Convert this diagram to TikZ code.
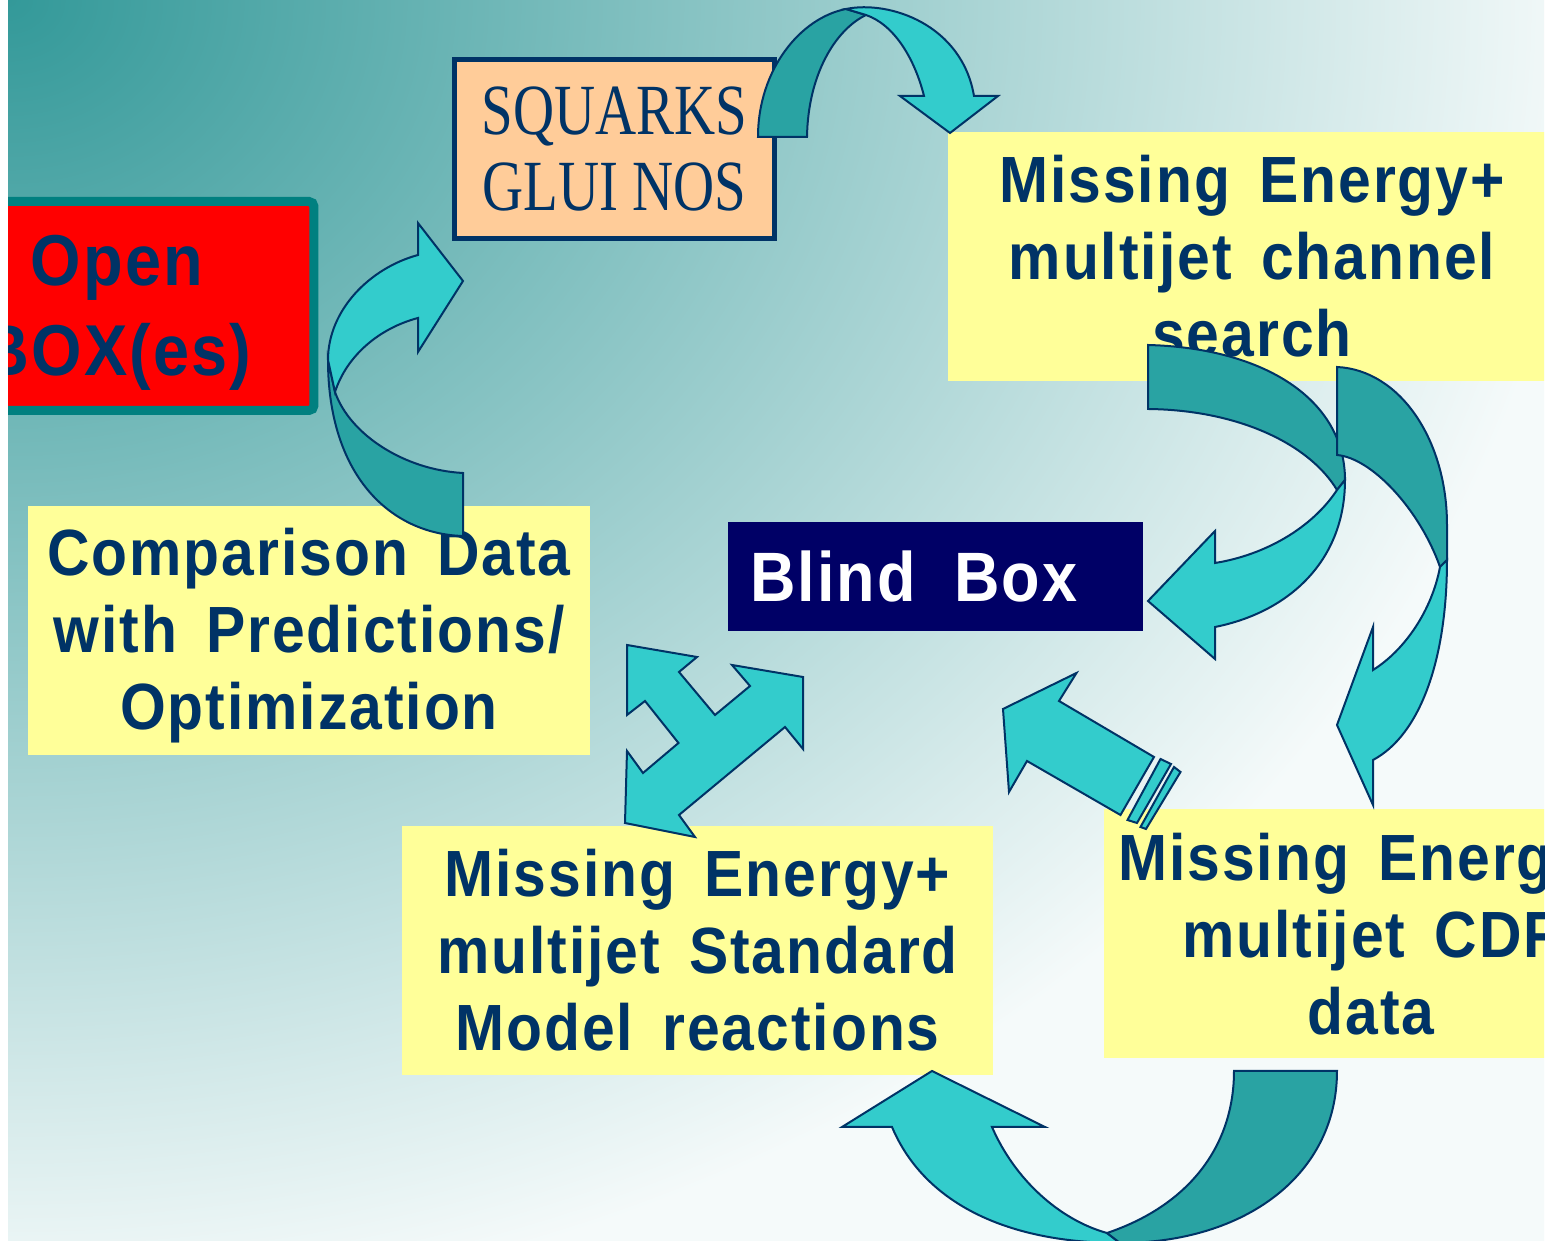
\documentclass[tikz,border=0pt]{standalone}
\usepackage{fontspec}
\setmainfont{Liberation Sans}
\newfontfamily\labelfont{Liberation Sans}[FakeStretch=0.9,LetterSpace=3,WordSpace=1.6]
\newfontfamily\partfont{Liberation Serif}[FakeStretch=0.79]

\definecolor{bgdeep}{HTML}{339999}
\definecolor{bgpale}{HTML}{F5FAFA}
\definecolor{navytext}{HTML}{003366}
\definecolor{notepad}{HTML}{FFFF99}
\definecolor{peach}{HTML}{FFCC99}
\definecolor{blindnavy}{HTML}{000066}
\definecolor{openred}{HTML}{FF0000}
\definecolor{openrim}{HTML}{008080}
\definecolor{arrowlight}{HTML}{33CCCC}
\definecolor{arrowdark}{HTML}{29A3A3}

% slide background, fading out from the upper left corner
\pgfdeclareradialshading{slidefade}{\pgfpoint{0bp}{0bp}}{color(0bp)=(bgdeep); color(25bp)=(bgpale); color(50bp)=(bgpale)}

\newcommand\notefont{\labelfont\bfseries\fontsize{18.6pt}{21.9pt}\selectfont}

\begin{document}
\begin{tikzpicture}[
  x=0.1mm, y=-0.1mm,
  notebox/.style={rectangle, fill=notepad, text=navytext, align=center,
    minimum height=24.9mm, inner sep=0pt, font=\notefont},
  blindbox/.style={rectangle, fill=blindnavy, text=white, align=left,
    text width=37.1mm, inner xsep=2.2mm, inner ysep=0pt, minimum height=10.9mm,
    font=\labelfont\bfseries\fontsize{19.9pt}{22pt}\selectfont},
  partbox/.style={rectangle, fill=peach, draw=navytext, line width=0.5mm,
    text=navytext, align=center, minimum width=32mm, minimum height=17.9mm,
    font=\partfont\fontsize{20.5pt}{21.9pt}\selectfont},
  openbox/.style={rectangle, fill=openred, draw=openrim, line width=0.9mm,
    rounded corners=0.5mm, text=navytext, align=center,
    minimum width=39.4mm, minimum height=20.9mm,
    font=\labelfont\bfseries\fontsize{20.5pt}{25.6pt}\selectfont},
  face/.style={fill=arrowlight, draw=navytext, line width=0.2mm, line join=miter},
  back/.style={fill=arrowdark, draw=navytext, line width=0.2mm, line join=miter},
]
\useasboundingbox (0,0) rectangle (1562,1241);
\fill[white] (0,0) rectangle (1562,1241);

\begin{scope}
\clip (8,0) rectangle (1544,1241);
\shade[shading=slidefade] (-1572,-1320) rectangle (1588,1320);

% boxes
\node[openbox] (open) at (117,306) {\rule{0pt}{6.3mm}Open\\BOX(es)};
\node[partbox] (sparticles) at (614.5,149) {SQUARKS\\GLUI NOS};
\node[notebox, minimum width=60.8mm] (chan) at (1252,256.5) {Missing Energy+\\multijet channel\\search};
\node[blindbox] (blind) at (935.5,576.5) {Blind\hspace{1.5mm} Box};
\node[notebox, minimum width=56.2mm] (comp) at (309,631) {\rule{0pt}{5.7mm}Comparison Data\\with Predictions/\\Optimization};
\node[notebox, minimum width=59.1mm] (smodel) at (697.5,950.5) {Missing Energy+\\multijet Standard\\Model reactions};
\node[notebox, minimum width=53.4mm] (cdf) at (1371,934) {Missing Energy+\\multijet CDF\\data};

% comparison -> squarks/gluinos
\draw[back] (463,536) .. controls (390,534) and (328,475) .. (328,360)
  -- (335,392) .. controls (350,435) and (405,470) .. (463,473) -- cycle;
\draw[face] (328,360) .. controls (328,310) and (370,268) .. (418,255)
  -- (418,223) -- (463,281) -- (418,352) -- (418,318)
  .. controls (380,328) and (347,355) .. (335,392) -- cycle;

% squarks/gluinos -> channel search
\draw[back] (758,137) .. controls (758,70) and (800,18) .. (846,9)
  -- (866,15) .. controls (835,30) and (808,75) .. (807,137) -- cycle;
\draw[face] (846,9) .. controls (890,0) and (962,25) .. (974,96)
  -- (998,96) -- (950,133) -- (900,96) -- (924,96)
  .. controls (915,60) and (895,25) .. (866,15) -- cycle;

% channel search -> blind box
\draw[back] (1148,345) .. controls (1265,348) and (1345,400) .. (1345,480)
  -- (1337,490) .. controls (1310,445) and (1240,410) .. (1148,409) -- cycle;
\draw[face] (1345,480) .. controls (1345,560) and (1290,612) .. (1215,627)
  -- (1215,659) -- (1148,601) -- (1215,531) -- (1215,563)
  .. controls (1265,555) and (1312,528) .. (1337,490) -- cycle;

% channel search -> CDF data
\draw[back] (1337,367) .. controls (1400,370) and (1447,440) .. (1447,525)
  -- (1447,560) -- (1440,567) .. controls (1420,510) and (1372,458) .. (1337,455) -- cycle;
\draw[face] (1447,560) .. controls (1447,660) and (1420,735) .. (1373,760)
  -- (1373,805) -- (1337,725) -- (1373,627) -- (1373,670)
  .. controls (1405,650) and (1432,610) .. (1440,567) -- cycle;

% CDF data -> standard model
\draw[face] (892,1127) .. controls (925,1205) and (1010,1243) .. (1120,1243)
  -- (1107,1233) .. controls (1060,1220) and (1015,1180) .. (992,1127)
  -- (1045,1127) -- (932,1071) -- (842,1127) -- cycle;
\draw[back] (1107,1233) .. controls (1190,1205) and (1234,1145) .. (1234,1071)
  -- (1337,1071) .. controls (1337,1175) and (1245,1243) .. (1120,1243) -- cycle;

% three way arrow between comparison, blind box and standard model
\draw[face] (627,645) -- (697,657) -- (679,672) -- (715,715) -- (750,686)
  -- (732,665) -- (803,677) -- (803,749) -- (785,727) -- (679,815)
  -- (695,837) -- (625,823) -- (627,751) -- (643,773) -- (678.5,743)
  -- (645,701) -- (627,715) -- cycle;

% striped arrow, CDF data -> blind box
\draw[face] (1003,709) -- (1076.5,673) -- (1059,701) -- (1154,757)
  -- (1120.5,815) -- (1027,761) -- (1009,792) -- cycle;
\draw[face] (1160.5,759) -- (1171,764) -- (1137,823) -- (1127.5,820) -- cycle;
\draw[face] (1174,767) -- (1180.5,772) -- (1146,829) -- (1140.5,827) -- cycle;
\end{scope}
\end{tikzpicture}
\end{document}
